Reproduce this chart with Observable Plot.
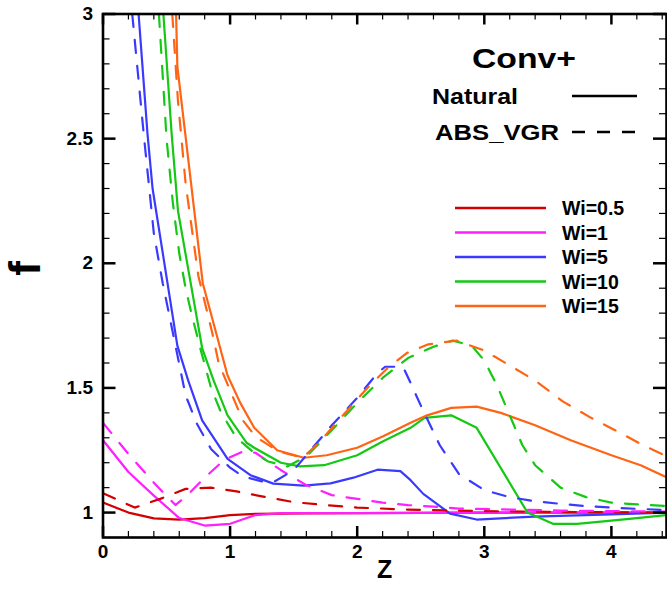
<!DOCTYPE html>
<html><head><meta charset="utf-8">
<script src="https://cdn.jsdelivr.net/npm/d3@7"></script>
<script src="https://cdn.jsdelivr.net/npm/@observablehq/plot@0.6"></script>
<style>
html,body{margin:0;padding:0;background:#fff}
#chart{width:667px;height:589px}
</style>
</head><body><div id="chart"></div>
<script>
// ---- data ----
const wiLabels = ["Wi=0.5", "Wi=1", "Wi=5", "Wi=10", "Wi=15"];
const wiColors = ["#d40000", "#ff1fff", "#3a3aff", "#14c814", "#ff6414"];
const modelLabels = ["Natural", "ABS_VGR"];
const titleText = "Conv+";
const xLabel = "Z";
const yLabel = "f";
const xMajor = [0, 1, 2, 3, 4];
const yMajor = [1, 1.5, 2, 2.5, 3];

// [Z, f] pairs, Natural (solid)
const natWi05 = [[0,1.04],[0.2,1.0],[0.4,0.977],[0.6,0.972],[0.8,0.978],[1.0,0.99],[1.2,0.995],[1.6,0.997],[2.0,0.998],[3.0,1.0],[4.44,1.0]];
const natWi1 = [[0,1.29],[0.2,1.163],[0.4,1.068],[0.6,0.978],[0.8,0.948],[1.0,0.955],[1.2,0.99],[1.4,0.998],[2.0,0.998],[3.0,1.0],[4.44,1.0]];
const natWi5 = [[0.28,3.0],[0.35,2.52],[0.39,2.3],[0.585,1.67],[0.67,1.53],[0.78,1.37],[0.98,1.215],[1.16,1.15],[1.34,1.116],[1.58,1.108],[1.79,1.117],[1.97,1.14],[2.16,1.172],[2.34,1.166],[2.42,1.13],[2.52,1.075],[2.73,0.996],[2.94,0.972],[3.39,0.984],[4.0,0.993],[4.44,1.0]];
const natWi10 = [[0.475,3.0],[0.54,2.52],[0.59,2.21],[0.78,1.66],[0.87,1.53],[0.98,1.39],[1.13,1.28],[1.19,1.26],[1.4,1.2],[1.55,1.185],[1.74,1.19],[2.0,1.23],[2.2,1.285],[2.42,1.34],[2.53,1.38],[2.74,1.39],[2.94,1.34],[3.34,1.0],[3.54,0.955],[3.73,0.955],[4.0,0.968],[4.2,0.978],[4.44,0.99]];
const natWi15 = [[0.575,3.0],[0.585,2.79],[0.785,1.92],[0.98,1.55],[1.08,1.44],[1.19,1.34],[1.37,1.25],[1.58,1.22],[1.76,1.23],[2.0,1.26],[2.2,1.305],[2.42,1.36],[2.55,1.39],[2.74,1.42],[2.94,1.425],[3.13,1.4],[3.4,1.35],[3.68,1.29],[4.0,1.23],[4.23,1.19],[4.44,1.14]];

// [Z, f] pairs, ABS_VGR (dashed)
const absWi05 = [[0,1.078],[0.25,1.02],[0.45,1.055],[0.65,1.095],[0.85,1.1],[1.05,1.085],[1.25,1.065],[1.5,1.042],[1.75,1.03],[2.0,1.02],[2.4,1.012],[3.0,1.006],[3.5,1.003],[4.44,1.0]];
const absWi1 = [[0,1.36],[0.2,1.235],[0.4,1.12],[0.57,1.03],[0.66,1.068],[0.78,1.13],[0.95,1.21],[1.1,1.245],[1.2,1.24],[1.4,1.17],[1.6,1.11],[1.8,1.07],[2.0,1.055],[2.2,1.04],[2.4,1.03],[2.6,1.024],[2.8,1.016],[3.2,1.012],[3.6,1.008],[4.44,1.004]];
const absWi5 = [[0.23,3.0],[0.32,2.52],[0.4,2.12],[0.47,1.92],[0.57,1.67],[0.65,1.47],[0.74,1.355],[0.85,1.255],[1.0,1.18],[1.1,1.145],[1.25,1.125],[1.35,1.125],[1.5,1.17],[1.65,1.26],[1.8,1.35],[2.0,1.46],[2.16,1.56],[2.22,1.585],[2.36,1.585],[2.42,1.52],[2.5,1.43],[2.65,1.27],[2.8,1.155],[3.0,1.09],[3.2,1.062],[3.4,1.045],[3.6,1.035],[3.8,1.026],[4.0,1.02],[4.2,1.015],[4.44,1.01]];
const absWi10 = [[0.44,3.0],[0.5,2.5],[0.55,2.24],[0.6,2.04],[0.65,1.9],[0.7,1.79],[0.77,1.65],[0.85,1.5],[0.93,1.4],[1.05,1.3],[1.2,1.235],[1.3,1.205],[1.45,1.185],[1.6,1.225],[1.8,1.33],[2.0,1.44],[2.2,1.54],[2.4,1.62],[2.6,1.665],[2.75,1.69],[2.9,1.67],[3.0,1.61],[3.1,1.51],[3.2,1.39],[3.3,1.27],[3.4,1.19],[3.5,1.145],[3.6,1.1],[3.8,1.062],[4.0,1.04],[4.2,1.033],[4.44,1.026]];
const absWi15 = [[0.545,3.0],[0.59,2.65],[0.65,2.32],[0.75,1.95],[0.86,1.72],[0.91,1.6],[1.0,1.49],[1.1,1.37],[1.2,1.305],[1.38,1.245],[1.57,1.22],[1.7,1.28],[1.87,1.38],[2.08,1.5],[2.24,1.58],[2.39,1.64],[2.56,1.675],[2.78,1.69],[3.0,1.65],[3.2,1.59],[3.4,1.53],[3.62,1.445],[3.84,1.38],[4.05,1.325],[4.25,1.27],[4.44,1.225]];

const naturalSeries = [natWi05, natWi1, natWi5, natWi10, natWi15];
const absSeries = [absWi05, absWi1, absWi5, absWi10, absWi15];

// ---- layout ----
const W = 667, H = 589;
const mTop = 13.5, mRight = 1, mBottom = 52, mLeft = 102.5;
const innerW = W - mLeft - mRight, innerH = H - mTop - mBottom;
const xMax = innerW / 127.1;
const xMinor = d3.range(0.2, xMax, 0.2).filter(v => Math.abs(v - Math.round(v)) > 1e-6);
const yMinor = d3.range(1.0, 3.0001, 0.1).filter(v => Math.abs(v * 2 - Math.round(v * 2)) > 1e-6);

const rows = [];
wiLabels.forEach((wi, i) => {
  naturalSeries[i].forEach(([z, f]) => rows.push({wi, model: modelLabels[0], z, f}));
  absSeries[i].forEach(([z, f]) => rows.push({wi, model: modelLabels[1], z, f}));
});

const font = "'Liberation Sans', Arial, Helvetica, sans-serif";
const fmt = d => String(d);

const svg = Plot.plot({
  width: W, height: H,
  marginTop: mTop, marginRight: mRight, marginBottom: mBottom, marginLeft: mLeft,
  x: {domain: [0, xMax]},
  y: {domain: [0.9, 3]},
  color: {domain: wiLabels, range: wiColors},
  style: {fontFamily: font, fontWeight: "bold", fontSize: "19px", background: "#fff", color: "#000"},
  marks: [
    Plot.line(rows.filter(d => d.model === modelLabels[0]), {x: "z", y: "f", z: "wi", stroke: "wi", strokeWidth: 2.2, clip: true}),
    Plot.line(rows.filter(d => d.model === modelLabels[1]), {x: "z", y: "f", z: "wi", stroke: "wi", strokeWidth: 2.2, strokeDasharray: "13,13", clip: true}),
    // inward ticks
    Plot.ruleX(xMajor, {x: d => d, insetTop: innerH - 11, strokeWidth: 2.5, stroke: "#000"}),
    Plot.ruleX(xMajor, {x: d => d, insetBottom: innerH - 11, strokeWidth: 2.5, stroke: "#000"}),
    Plot.ruleX(xMinor, {x: d => d, insetTop: innerH - 6, strokeWidth: 1.2, stroke: "#000"}),
    Plot.ruleX(xMinor, {x: d => d, insetBottom: innerH - 6, strokeWidth: 1.2, stroke: "#000"}),
    Plot.ruleY(yMajor, {y: d => d, insetRight: innerW - 13, strokeWidth: 2.5, stroke: "#000"}),
    Plot.ruleY(yMajor, {y: d => d, insetLeft: innerW - 13, strokeWidth: 2.5, stroke: "#000"}),
    Plot.ruleY(yMinor, {y: d => d, insetRight: innerW - 7, strokeWidth: 1.2, stroke: "#000"}),
    Plot.ruleY(yMinor, {y: d => d, insetLeft: innerW - 7, strokeWidth: 1.2, stroke: "#000"}),
    Plot.axisX(xMajor, {tickSize: 0, tickPadding: 7, label: null, tickFormat: fmt, fontSize: 19, fontWeight: "bold"}),
    Plot.axisY(yMajor, {tickSize: 0, tickPadding: 10, label: null, tickFormat: fmt, fontSize: 19, fontWeight: "bold"}),
    Plot.frame({stroke: "#000", strokeWidth: 2.6}),
    Plot.text([xLabel], {text: d => d, frameAnchor: "bottom", dy: 40, fontSize: 25, fontWeight: "bold"}),
    Plot.text([yLabel], {text: d => d, frameAnchor: "left", dx: -77, rotate: -90, fontSize: 44, fontWeight: "bold"})
  ]
});

// ---- legend (inside the plot area) ----
const g = d3.select(svg).append("g").attr("font-family", font).attr("font-weight", "bold")
  .attr("fill", "#000").attr("text-anchor", "start");
g.append("text").attr("x", 472).attr("y", 68).attr("font-size", 28)
  .attr("textLength", 104).attr("lengthAdjust", "spacingAndGlyphs").text(titleText);
const styleRows = [{label: modelLabels[0], y: 96, dash: null, tl: 86, tx: 432},
                   {label: modelLabels[1], y: 132, dash: "13,12", tl: 124, tx: 435}];
styleRows.forEach(r => {
  g.append("text").attr("x", r.tx).attr("y", r.y + 8).attr("font-size", 22)
    .attr("textLength", r.tl).attr("lengthAdjust", "spacingAndGlyphs").text(r.label);
  g.append("line").attr("x1", 572).attr("x2", 637).attr("y1", r.y).attr("y2", r.y)
    .attr("stroke", "#000").attr("stroke-width", 2.4).attr("stroke-dasharray", r.dash);
});
wiLabels.forEach((wi, i) => {
  const y = 208 + i * 24.5;
  g.append("line").attr("x1", 455).attr("x2", 546).attr("y1", y).attr("y2", y)
    .attr("stroke", wiColors[i]).attr("stroke-width", 2.4);
  g.append("text").attr("x", 562).attr("y", y + 7).attr("font-size", 19.5).text(wi);
});

document.getElementById("chart").appendChild(svg);
</script>
</body></html>
